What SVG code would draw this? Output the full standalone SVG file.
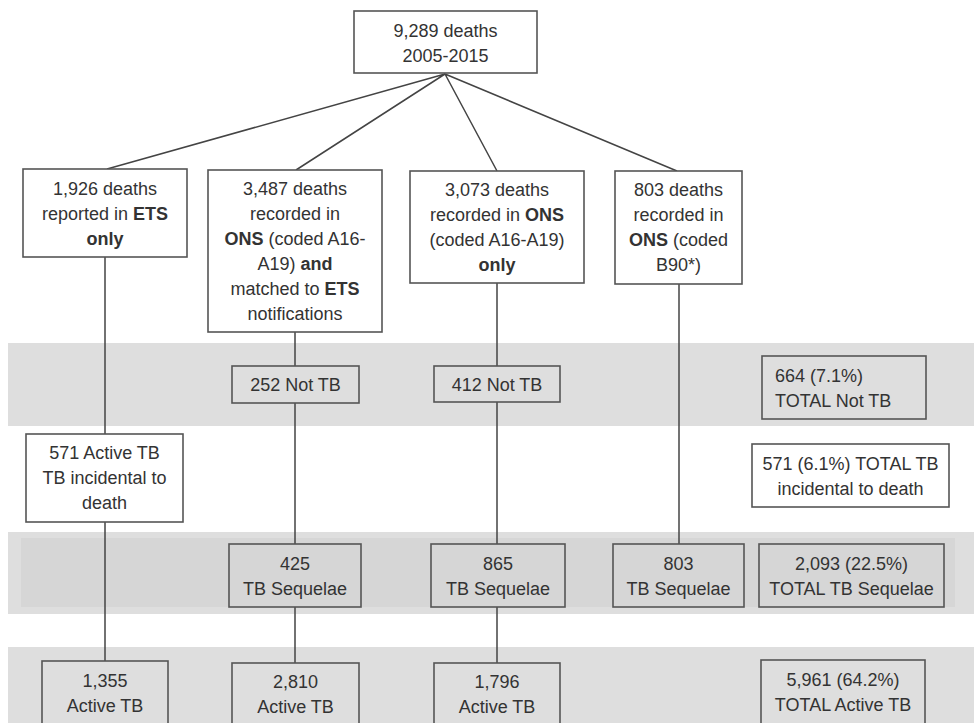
<svg xmlns="http://www.w3.org/2000/svg" width="974" height="723" viewBox="0 0 974 723">
<style>
.bx{fill:none;stroke:#555;stroke-width:1.6}
.bw{fill:#fff;stroke:#555;stroke-width:1.6}
.ln{stroke:#444;stroke-width:1.5;fill:none}
text{font-family:"Liberation Sans",Arial,sans-serif;font-size:18px;fill:#333;text-anchor:middle}
.l{text-anchor:start}
.b{font-weight:bold}
</style>
<rect width="974" height="723" fill="#fff"/>
<g id="bands">
<rect x="8" y="343" width="966" height="83" fill="#dedede"/>
<rect x="8" y="532" width="966" height="82" fill="#dedede"/>
<rect x="21" y="538" width="934" height="69" fill="#d6d6d6"/>
<rect x="8" y="647" width="966" height="76" fill="#dedede"/>
</g>
<g id="connectors">
<path class="ln" d="M445,74 L107,169 M445,74 L296,170 M445,74 L497,171 M445,74 L677,171"/>
<path class="ln" d="M105,257 V434 M105,522 V661"/>
<path class="ln" d="M295,332 V366 M295,403 V544 M295,607 V663"/>
<path class="ln" d="M497,283 V366 M497,402 V544 M497,607 V663"/>
<path class="ln" d="M679,284 V544"/>
</g>
<g id="n-total">
<rect class="bw" x="354" y="11" width="183" height="62"/>
<text x="445.5" y="37">9,289 deaths</text>
<text x="445.5" y="62">2005-2015</text>
</g>
<g id="n-ets">
<rect class="bw" x="23" y="169" width="164" height="88"/>
<text x="105" y="195">1,926 deaths</text>
<text x="105" y="220">reported in <tspan class="b">ETS</tspan></text>
<text x="105" y="245" class="b">only</text>
</g>
<g id="n-matched">
<rect class="bw" x="208" y="170" width="174" height="162"/>
<text x="295" y="195">3,487 deaths</text>
<text x="295" y="220">recorded in</text>
<text x="295" y="245"><tspan class="b">ONS</tspan> (coded A16-</text>
<text x="295" y="270">A19) <tspan class="b">and</tspan></text>
<text x="295" y="295">matched to <tspan class="b">ETS</tspan></text>
<text x="295" y="320">notifications</text>
</g>
<g id="n-onsonly">
<rect class="bw" x="410" y="171" width="174" height="112"/>
<text x="497" y="196">3,073 deaths</text>
<text x="497" y="221">recorded in <tspan class="b">ONS</tspan></text>
<text x="497" y="246">(coded A16-A19)</text>
<text x="497" y="271" class="b">only</text>
</g>
<g id="n-b90">
<rect class="bw" x="615" y="171" width="127" height="113"/>
<text x="678.5" y="196">803 deaths</text>
<text x="678.5" y="221">recorded in</text>
<text x="678.5" y="246"><tspan class="b">ONS</tspan> (coded</text>
<text x="678.5" y="271">B90*)</text>
</g>
<g id="n-252">
<rect class="bx" x="232" y="366" width="127" height="37"/>
<text x="295.5" y="391">252 Not TB</text>
</g>
<g id="n-412">
<rect class="bx" x="434" y="366" width="126" height="36"/>
<text x="497" y="391">412 Not TB</text>
</g>
<g id="n-totnot">
<rect class="bx" x="762" y="356" width="164" height="63"/>
<text class="l" x="775" y="382">664 (7.1%)</text>
<text class="l" x="775" y="407">TOTAL Not TB</text>
</g>
<g id="n-571">
<rect class="bw" x="26" y="434" width="157" height="88"/>
<text x="104.5" y="459">571 Active TB</text>
<text x="104.5" y="484">TB incidental to</text>
<text x="104.5" y="509">death</text>
</g>
<g id="n-totinc">
<rect class="bw" x="752" y="444" width="197" height="63"/>
<text x="850.5" y="470">571 (6.1%) TOTAL TB</text>
<text x="850.5" y="495">incidental to death</text>
</g>
<g id="n-425">
<rect class="bx" x="229" y="544" width="132" height="63"/>
<text x="295" y="570">425</text>
<text x="295" y="595">TB Sequelae</text>
</g>
<g id="n-865">
<rect class="bx" x="431" y="544" width="134" height="63"/>
<text x="498" y="570">865</text>
<text x="498" y="595">TB Sequelae</text>
</g>
<g id="n-803">
<rect class="bx" x="613" y="544" width="131" height="63"/>
<text x="678.5" y="570">803</text>
<text x="678.5" y="595">TB Sequelae</text>
</g>
<g id="n-totseq">
<rect class="bx" x="759" y="544" width="185" height="63"/>
<text x="851.5" y="570">2,093 (22.5%)</text>
<text x="851.5" y="595">TOTAL TB Sequelae</text>
</g>
<g id="n-1355">
<rect class="bx" x="42" y="661" width="126" height="70"/>
<text x="105" y="687">1,355</text>
<text x="105" y="712">Active TB</text>
</g>
<g id="n-2810">
<rect class="bx" x="232" y="663" width="127" height="70"/>
<text x="295.5" y="688">2,810</text>
<text x="295.5" y="713">Active TB</text>
</g>
<g id="n-1796">
<rect class="bx" x="434" y="663" width="126" height="70"/>
<text x="497" y="688">1,796</text>
<text x="497" y="713">Active TB</text>
</g>
<g id="n-totact">
<rect class="bx" x="761" y="660" width="164" height="70"/>
<text x="843" y="686">5,961 (64.2%)</text>
<text x="843" y="711">TOTAL Active TB</text>
</g>
</svg>
